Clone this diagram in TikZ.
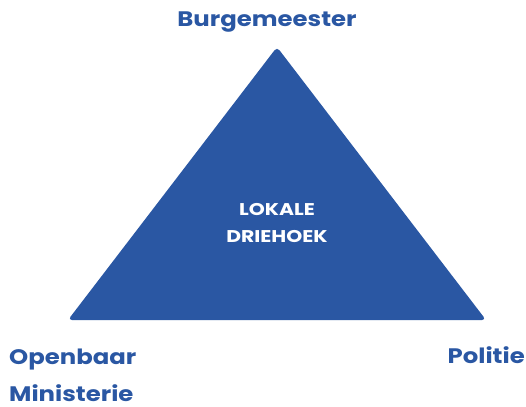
\documentclass[tikz,border=0pt]{standalone}
\usepackage{fontspec}
\setmainfont{Poppins}[BoldFont={* Bold}]
\newfontfamily\widebold{Poppins Bold}[FakeStretch=1.16]
\newfontfamily\innerbold{Poppins Bold}[FakeStretch=1.2]
\definecolor{tri}{HTML}{2A57A3}
\begin{document}
\begin{tikzpicture}[x=1pt,y=-1pt,
  lbl/.style={text=tri,font=\widebold\fontsize{21}{32}\selectfont,inner sep=0pt},
  inner/.style={text=white,font=\innerbold\fontsize{17}{27}\selectfont,align=center,inner sep=0pt}]
\useasboundingbox (0,0) rectangle (526,406);
\coordinate (A) at (277,47);
\coordinate (B) at (68,320);
\coordinate (C) at (486,320);
\fill[tri,rounded corners=4pt] (A) -- (C) -- (B) -- cycle;
\node[inner,anchor=base] (lk) at (277,215) {LOKALE};
\node[inner,anchor=base] (dh) at (277,242) {DRIEHOEK};
\node[lbl,anchor=base] (bg) at (267,27) {Burgemeester};
\node[lbl,anchor=base west] (om) at (9,364) {Openbaar};
\node[lbl,anchor=base west,text depth=0pt] (om2) at (9,401) {Ministerie};
\node[lbl,anchor=base east] (po) at (525,363) {Politie};
\end{tikzpicture}
\end{document}
